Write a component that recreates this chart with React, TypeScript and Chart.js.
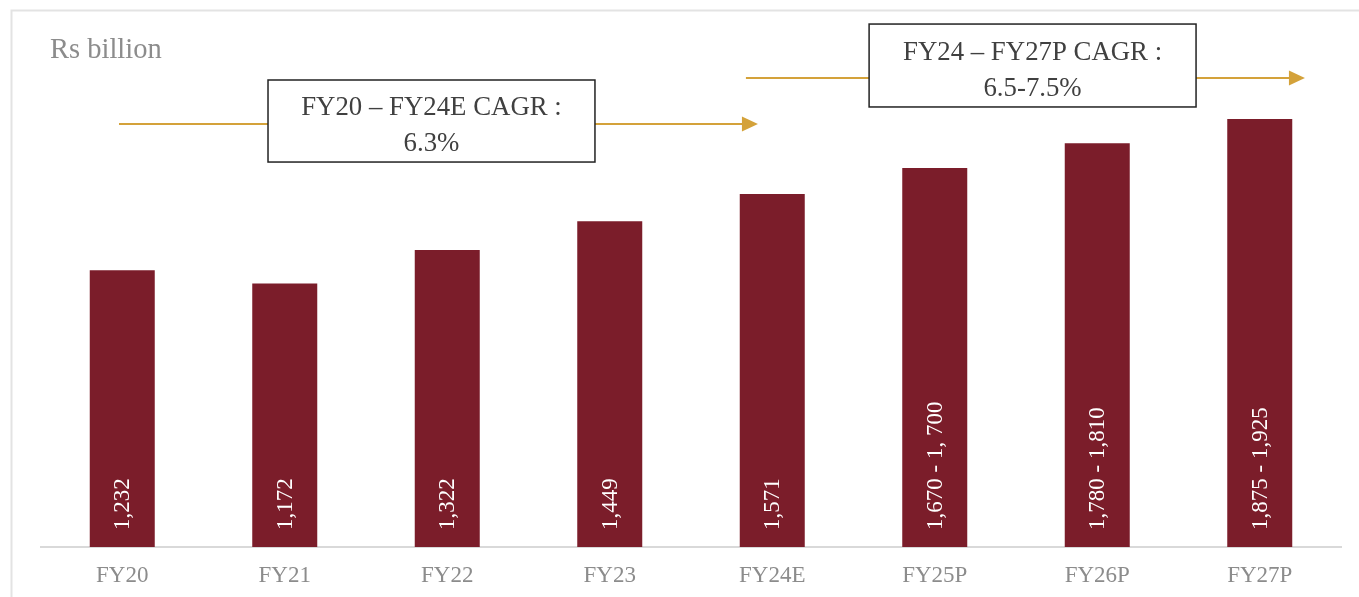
import React, { useEffect, useRef } from "react";
import { Chart, registerables } from "chart.js";

Chart.register(...registerables);

const categories = ["FY20", "FY21", "FY22", "FY23", "FY24E", "FY25P", "FY26P", "FY27P"];
const values = [1232, 1172, 1322, 1449, 1571, 1686, 1797, 1905];
const valueLabels = ["1,232", "1,172", "1,322", "1,449", "1,571", "1,670 - 1, 700", "1,780 - 1,810", "1,875 - 1,925"];
const unitLabel = "Rs billion";

// annotations, positioned in data units (category index, value)
const cagrBoxes = [
  { lines: ["FY20 \u2013 FY24E CAGR :", "6.3%"], cx: 1.903, top: 2078, bottom: 1713, halfW: 1.006, arrowFrom: -0.02, arrowTo: 3.912, arrowY: 1882 },
  { lines: ["FY24 \u2013 FY27P CAGR :", "6.5-7.5%"], cx: 5.602, top: 2327, bottom: 1958, halfW: 1.006, arrowFrom: 3.838, arrowTo: 7.278, arrowY: 2087 },
];

const SERIF = "'Liberation Serif', 'Times New Roman', serif";
const BAR_COLOR = "#7b1d2a";
const GOLD = "#d4a23a";

const decorPlugin = {
  id: "decor",
  beforeDraw(chart: any) {
    const ctx = chart.ctx;
    ctx.save();
    ctx.strokeStyle = "#e3e3e3";
    ctx.lineWidth = 2;
    ctx.beginPath();
    ctx.moveTo(11.5, chart.height);
    ctx.lineTo(11.5, 10.5);
    ctx.lineTo(chart.width, 10.5);
    ctx.stroke();
    ctx.fillStyle = "#8c8c8c";
    ctx.font = `28.5px ${SERIF}`;
    ctx.textAlign = "left";
    ctx.textBaseline = "middle";
    ctx.fillText(unitLabel, 50, 51);
    ctx.restore();
  },
  afterDatasetsDraw(chart: any) {
    const ctx = chart.ctx;
    const meta = chart.getDatasetMeta(0);
    const xs = chart.scales.x;
    const ys = chart.scales.y;
    ctx.save();
    // bar value labels
    ctx.fillStyle = "#ffffff";
    ctx.font = `23px ${SERIF}`;
    ctx.textAlign = "left";
    ctx.textBaseline = "middle";
    meta.data.forEach((bar: any, i: number) => {
      ctx.save();
      ctx.translate(bar.x + 1, bar.base - 17);
      ctx.rotate(-Math.PI / 2);
      ctx.fillText(valueLabels[i], 0, 0);
      ctx.restore();
    });
    // CAGR arrows and boxes
    cagrBoxes.forEach((b) => {
      const y = ys.getPixelForValue(b.arrowY);
      const x0 = xs.getPixelForValue(b.arrowFrom);
      const x1 = xs.getPixelForValue(b.arrowTo);
      ctx.strokeStyle = GOLD;
      ctx.fillStyle = GOLD;
      ctx.lineWidth = 2;
      ctx.beginPath();
      ctx.moveTo(x0, y);
      ctx.lineTo(x1 - 12, y);
      ctx.stroke();
      ctx.beginPath();
      ctx.moveTo(x1, y);
      ctx.lineTo(x1 - 16, y - 7.5);
      ctx.lineTo(x1 - 16, y + 7.5);
      ctx.closePath();
      ctx.fill();

      const left = xs.getPixelForValue(b.cx - b.halfW);
      const right = xs.getPixelForValue(b.cx + b.halfW);
      const top = ys.getPixelForValue(b.top);
      const bottom = ys.getPixelForValue(b.bottom);
      ctx.fillStyle = "#ffffff";
      ctx.fillRect(left, top, right - left, bottom - top);
      ctx.strokeStyle = "#222222";
      ctx.lineWidth = 1.5;
      ctx.strokeRect(left, top, right - left, bottom - top);
      ctx.fillStyle = "#404040";
      ctx.font = `26.8px ${SERIF}`;
      ctx.textAlign = "center";
      ctx.textBaseline = "middle";
      const cx = (left + right) / 2;
      const cy = (top + bottom) / 2;
      ctx.fillText(b.lines[0], cx, cy - 13);
      ctx.fillText(b.lines[1], cx, cy + 23);
    });
    ctx.restore();
  },
};

export default function App() {
  const ref = useRef<HTMLCanvasElement | null>(null);
  useEffect(() => {
    if (!ref.current) return;
    const chart = new Chart(ref.current, {
      type: "bar",
      data: {
        labels: categories,
        datasets: [
          {
            data: values,
            backgroundColor: BAR_COLOR,
            borderWidth: 0,
            barPercentage: 0.4,
            categoryPercentage: 1,
          },
        ],
      },
      options: {
        animation: false,
        responsive: true,
        maintainAspectRatio: false,
        layout: { padding: { left: 41, right: 18, top: 20, bottom: 0 } },
        plugins: { legend: { display: false }, tooltip: { enabled: false }, title: { display: false } },
        scales: {
          x: {
            grid: { display: false, drawTicks: false },
            border: { display: true, color: "#d9d9d9", width: 2 },
            ticks: { color: "#8c8c8c", font: { family: SERIF, size: 23 }, padding: 15 },
            afterFit: (scale: any) => {
              scale.height = 50;
            },
          },
          y: {
            display: false,
            min: 0,
            max: 2345,
          },
        },
      },
      plugins: [decorPlugin],
    });
    return () => chart.destroy();
  }, []);
  return (
    <div style={{ position: "fixed", left: 0, top: 0, width: 1359, height: 597, background: "#fff" }}>
      <canvas ref={ref} />
    </div>
  );
}
